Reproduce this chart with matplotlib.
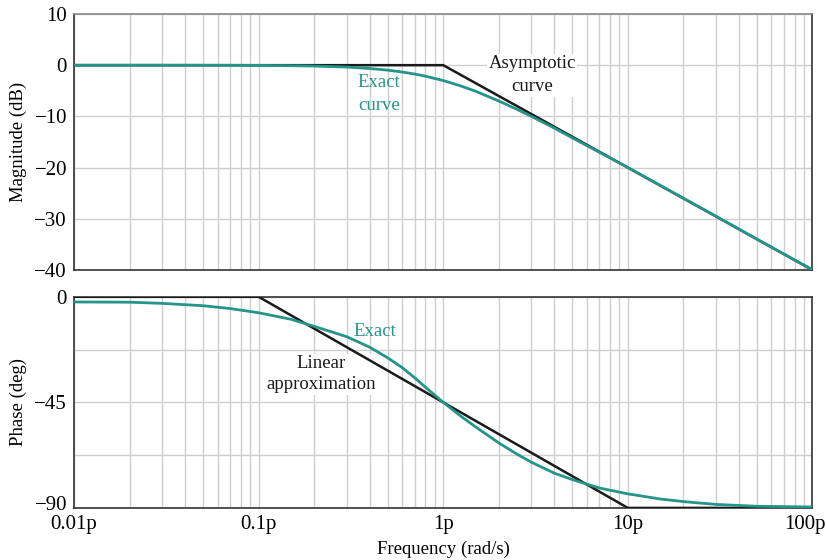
import matplotlib
matplotlib.use("Agg")
import matplotlib.pyplot as plt
import matplotlib.ticker as mticker
import matplotlib.transforms as mtrans

plt.rcParams['font.family'] = ['Liberation Serif', 'DejaVu Serif']

# values
freq = [0.01, 0.02, 0.03, 0.05, 0.07, 0.1, 0.15, 0.2, 0.3, 0.4, 0.5, 0.6, 0.7, 0.8,
        1.0, 1.25, 1.5, 2.0, 2.5, 3.0, 4.0, 5.0, 7.0, 10.0, 15.0, 20.0, 30.0, 50.0, 100.0]
mag_exact = [0.0, 0.0, 0.0, -0.01, -0.02, -0.04, -0.1, -0.17, -0.37, -0.65, -0.97, -1.34,
             -1.73, -2.15, -3.0, -4.08, -5.1, -7.0, -8.6, -10.0, -12.3, -14.2, -17.0,
             -20.0, -23.5, -26.0, -29.5, -34.0, -40.0]
phase_exact = [-2.2, -2.3, -2.8, -3.8, -5.0, -6.8, -9.6, -12.6, -17.0, -21.5, -26.0, -30.2,
               -34.5, -38.5, -45.0, -51.0, -55.5, -62.3, -67.0, -70.5, -75.2, -77.9, -81.5,
               -84.0, -86.2, -87.3, -88.5, -89.3, -89.6]

mag_asym_f = [0.01, 1.0, 100.0]
mag_asym = [0.0, 0.0, -40.0]
phase_lin_f = [0.01, 0.1, 10.0, 100.0]
phase_lin = [0.0, 0.0, -90.0, -90.0]

xticks = [0.01, 0.1, 1, 10, 100]
xlabels = ['0.01p', '0.1p', '1p', '10p', '100p']

teal = '#23958a'
dark = '#1a1a1a'
gridc = '#cfcfcf'

fig = plt.figure(figsize=(8.26, 5.6), dpi=100)
ax1 = fig.add_axes([0.0896, 0.518, 0.894, 0.457])
ax2 = fig.add_axes([0.0896, 0.093, 0.894, 0.377])

for ax in (ax1, ax2):
    ax.set_xscale('log')
    ax.set_xlim(0.01, 100)
    ax.xaxis.set_major_locator(mticker.FixedLocator(xticks))
    ax.xaxis.set_minor_locator(mticker.LogLocator(base=10, subs=range(2, 10)))
    ax.xaxis.set_minor_formatter(mticker.NullFormatter())
    ax.grid(True, which='both', axis='x', color=gridc, lw=1.0)
    ax.grid(True, which='major', axis='y', color=gridc, lw=1.0)
    ax.tick_params(which='both', length=0, labelsize=15, pad=5)
    ax.set_axisbelow(True)
    for s in ax.spines.values():
        s.set_color('#333333')
        s.set_linewidth(1.2)
    ax.yaxis.set_label_coords(-0.064, 0.5)

# magnitude
ax1.plot(mag_asym_f, mag_asym, color=dark, lw=1.8, zorder=3)
ax1.plot(freq, mag_exact, color=teal, lw=2.0, zorder=4)
ax1.set_ylim(-40, 10)
ax1.set_yticks([10, 0, -10, -20, -30, -40])
ax1.xaxis.set_ticklabels([])
ax1.spines['top'].set_color('#888888')
ax1.set_ylabel('Magnitude (dB)', fontsize=13.5)
ax1.text(0.45, -5.6, 'Exact\ncurve', color=teal, fontsize=13.5, ha='center', va='center',
         linespacing=1.45, zorder=5)
ax1.text(3.04, -2.0, 'Asymptotic\ncurve', color=dark, fontsize=13.5, ha='center',
         va='center', linespacing=1.45, zorder=2,
         bbox=dict(facecolor='white', edgecolor='none', pad=1))

# phase
ax2.plot(phase_lin_f, phase_lin, color=dark, lw=1.8, zorder=3)
ax2.plot(freq, phase_exact, color=teal, lw=2.0, zorder=4)
ax2.set_ylim(-90, 0)
ax2.set_yticks([0, -22.5, -45, -67.5, -90])
ax2.set_yticklabels(['0', '', '\u221245', '', '\u221290'])
ax2.set_xticklabels(xlabels)
last = ax2.get_xticklabels()[-1]
last.set_transform(last.get_transform() + mtrans.ScaledTranslation(-8 / 100, 0, fig.dpi_scale_trans))
low = ax2.get_yticklabels()[-1]
low.set_transform(low.get_transform() + mtrans.ScaledTranslation(0, 5 / 100, fig.dpi_scale_trans))
ax2.set_ylabel('Phase (deg)', fontsize=13.5)
ax2.text(0.428, -15.0, 'Exact', color=teal, fontsize=13.5, ha='center', va='center', zorder=5)
ax2.text(0.218, -33.0, 'Linear\napproximation', color=dark, fontsize=13.5, ha='center',
         va='center', linespacing=1.35, zorder=2,
         bbox=dict(facecolor='white', edgecolor='none', pad=1))

fig.text(443 / 826, 1 - 549 / 560, 'Frequency (rad/s)', fontsize=13.5, ha='center', va='center')

fig.savefig('out.png', dpi=100)
